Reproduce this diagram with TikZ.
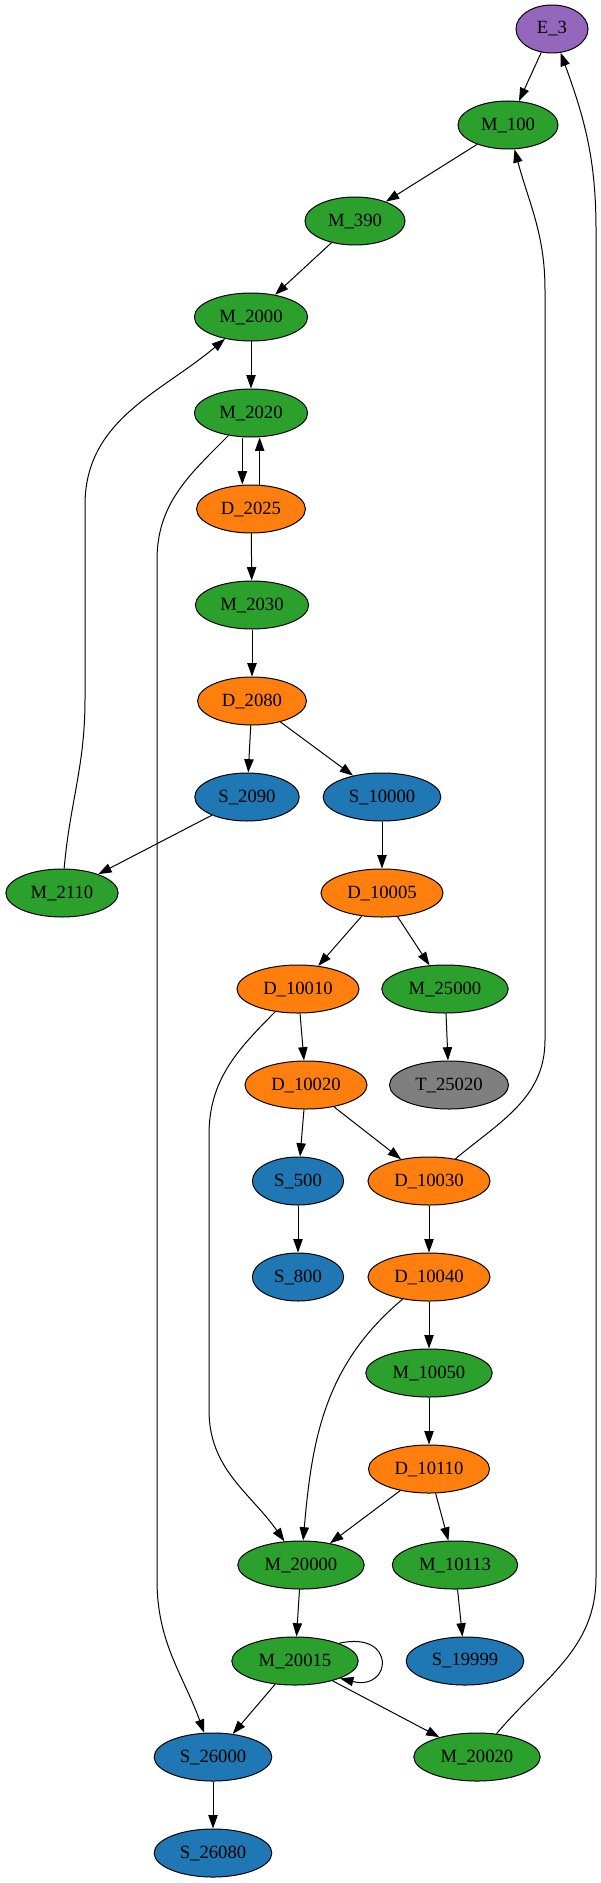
\documentclass[tikz,border=0pt]{standalone}
\usepackage{fontspec}
\setmainfont{Liberation Serif}
\usetikzlibrary{shapes.geometric,arrows.meta}

\definecolor{mgreen}{HTML}{2CA02C}
\definecolor{dorange}{HTML}{FF7F0E}
\definecolor{sblue}{HTML}{1F77B4}
\definecolor{epurple}{HTML}{9467BD}
\definecolor{tgrey}{HTML}{7F7F7F}

\begin{document}
\begin{tikzpicture}[
  x=0.75pt, y=0.75pt,
  state/.style={ellipse, draw, line width=0.75pt, minimum width=54pt,
                minimum height=36pt, inner xsep=6.3pt, inner ysep=1pt,
                font=\fontsize{14pt}{17pt}\selectfont},
  mstate/.style={state, fill=mgreen},
  dstate/.style={state, fill=dorange},
  sstate/.style={state, fill=sblue},
  estate/.style={state, fill=epurple},
  tstate/.style={state, fill=tgrey},
  flow/.style={-{Triangle[length=10pt, width=7pt]}, line width=0.75pt},
]
  \useasboundingbox (0,0) rectangle (600,-1883);

  \node[estate] (e3)     at (552,-29)   {E\_3};
  \node[mstate] (m100)   at (508,-125)  {M\_100};
  \node[mstate] (m390)   at (355,-221)  {M\_390};
  \node[mstate] (m2000)  at (251,-317)  {M\_2000};
  \node[mstate] (m2020)  at (251,-413)  {M\_2020};
  \node[dstate] (d2025)  at (251,-509)  {D\_2025};
  \node[mstate] (m2030)  at (252,-605)  {M\_2030};
  \node[dstate] (d2080)  at (252,-701)  {D\_2080};
  \node[sstate] (s2090)  at (247,-797)  {S\_2090};
  \node[sstate] (s10000) at (382,-797)  {S\_10000};
  \node[mstate] (m2110)  at (62,-893)   {M\_2110};
  \node[dstate] (d10005) at (382,-893)  {D\_10005};
  \node[dstate] (d10010) at (298,-989)  {D\_10010};
  \node[mstate] (m25000) at (445,-989)  {M\_25000};
  \node[dstate] (d10020) at (306,-1085) {D\_10020};
  \node[tstate] (t25020) at (449,-1085) {T\_25020};
  \node[sstate] (s500)   at (298,-1181) {S\_500};
  \node[dstate] (d10030) at (429,-1181) {D\_10030};
  \node[sstate] (s800)   at (298,-1277) {S\_800};
  \node[dstate] (d10040) at (429,-1277) {D\_10040};
  \node[mstate] (m10050) at (429,-1373) {M\_10050};
  \node[dstate] (d10110) at (429,-1469) {D\_10110};
  \node[mstate] (m20000) at (301,-1565) {M\_20000};
  \node[mstate] (m10113) at (455,-1565) {M\_10113};
  \node[mstate] (m20015) at (295,-1661) {M\_20015};
  \node[sstate] (s19999) at (465,-1661) {S\_19999};
  \node[sstate] (s26000) at (213,-1757) {S\_26000};
  \node[mstate] (m20020) at (477,-1757) {M\_20020};
  \node[sstate] (s26080) at (213,-1853) {S\_26080};

  \coordinate (a1) at (85,-700);
  \coordinate (a2) at (85,-505);
  \coordinate (b1) at (157,-560);
  \coordinate (b2) at (157,-1580);
  \coordinate (c1) at (209,-1135);
  \coordinate (c2) at (209,-1410);
  \coordinate (d1) at (545,-1040);
  \coordinate (d2) at (545,-290);
  \coordinate (f1) at (596,-1577);
  \coordinate (f2) at (596,-230);

  \draw[flow] (e3) -- (m100);
  \draw[flow] (m100) -- (m390);
  \draw[flow] (m390) -- (m2000);
  \draw[flow] (m2000) -- (m2020);
  \draw[flow] ([xshift=-6.5pt]m2020.south) -- ([xshift=-6.5pt]d2025.north);
  \draw[flow] ([xshift=6.5pt]d2025.north) -- ([xshift=6.5pt]m2020.south);
  \draw[flow] (d2025) -- (m2030);
  \draw[flow] (m2030) -- (d2080);
  \draw[flow] (d2080) -- (s2090);
  \draw[flow] (d2080) -- (s10000);
  \draw[flow] (s2090) -- (m2110);
  \draw[flow] (s10000) -- (d10005);
  \draw[flow] (d10005) -- (d10010);
  \draw[flow] (d10005) -- (m25000);
  \draw[flow] (d10010) -- (d10020);
  \draw[flow] (m25000) -- (t25020);
  \draw[flow] (d10020) -- (s500);
  \draw[flow] (d10020) -- (d10030);
  \draw[flow] (s500) -- (s800);
  \draw[flow] (d10030) -- (d10040);
  \draw[flow] (d10040) -- (m10050);
  \draw[flow] (m10050) -- (d10110);
  \draw[flow] (d10110) -- (m20000);
  \draw[flow] (d10110) -- (m10113);
  \draw[flow] (m10113) -- (s19999);
  \draw[flow] (m20000) -- (m20015);
  \draw[flow] (m20015) -- (s26000);
  \draw[flow] (m20015) -- (m20020);
  \draw[flow] (s26000) -- (s26080);

  \draw[flow] (m2110) to[out=85,in=-90] (a1) -- (a2) to[out=90,in=-140] (m2000);
  \draw[flow] (m2020) to[out=-135,in=90] (b1) -- (b2) to[out=-90,in=110] (s26000);
  \draw[flow] (d10010) to[out=-135,in=90] (c1) -- (c2) to[out=-90,in=125] (m20000);
  \draw[flow] (d10040) to[out=-140,in=85] (m20000);
  \draw[flow] (d10030) to[out=40,in=-90] (d1) -- (d2) to[out=90,in=-75] (m100);
  \draw[flow] (m20020) to[out=50,in=-90] (f1) -- (f2) to[out=90,in=-70] (e3);
  \draw[flow] (m20015.22) .. controls +(58,13) and +(52,-13) .. (m20015.-21);
\end{tikzpicture}
\end{document}
